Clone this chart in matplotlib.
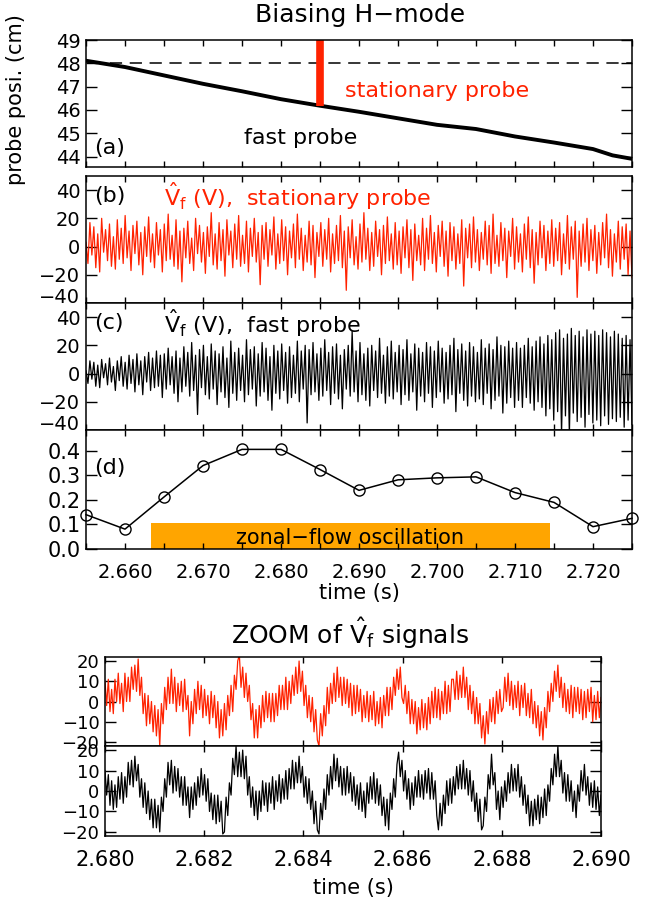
import matplotlib.pyplot as plt
import numpy as np
from matplotlib.ticker import MultipleLocator, FormatStrFormatter

plt.rcParams['font.family'] = 'DejaVu Sans'
plt.rcParams['mathtext.fontset'] = 'dejavusans'

RED = '#ff2200'

# (a) fast probe position, every 5 ms
t_pos = [2.655, 2.660, 2.665, 2.670, 2.675, 2.680, 2.685, 2.690, 2.695,
         2.700, 2.705, 2.710, 2.715, 2.720, 2.7225, 2.725]
pos_fast = [48.11, 47.84, 47.48, 47.12, 46.80, 46.46, 46.18, 45.92, 45.64,
            45.36, 45.18, 44.86, 44.60, 44.32, 44.05, 43.90]
pos_stat = 48.0
t_stat = 2.685

# (b) floating potential fluctuation, stationary probe (V)
vf_stat = [3, -12, 17, -6, 14, -15, 9, -18, 20, -4, 12, -10, 16, -14, 7, -16, 19, -9, 13, -12,
           22, -8, 11, -17, 15, -5, 18, -13, 10, -20, 14, -7, 21, -11, 9, -15, 17, -6, 12, -18,
           16, -10, 23, -9, 8, -14, 19, -16, 11, -25, 13, -8, 18, -12, 6, -17, 20, -5, 15, -11,
           10, -19, 14, -7, 24, -13, 9, -16, 17, -10, 12, -21, 19, -6, 11, -15, 16, -9, 22, -14,
           8, -12, 18, -18, 13, -7, 20, -11, 10, -27, 15, -9, 17, -14, 12, -6, 21, -16, 9, -12,
           19, -10, 14, -20, 11, -8, 16, -15, 23, -9, 13, -17, 8, -11, 18, -13, 15, -22, 10, -7,
           17, -14, 12, -9, 20, -18, 9, -12, 15, -10, 22, -15, 11, -31, 14, -8, 19, -13, 7, -16,
           16, -11, 24, -9, 13, -17, 10, -14, 18, -7, 12, -20, 15, -12, 21, -10, 9, -16, 17, -13,
           11, -19, 14, -8, 19, -15, 12, -24, 16, -10, 8, -13, 20, -17, 13, -9, 22, -12, 10, -18,
           15, -7, 18, -14, 11, -21, 17, -10, 14, -16, 9, -12, 19, -28, 13, -8, 16, -15, 21, -11,
           12, -17, 10, -9, 18, -13, 15, -19, 23, -12, 8, -14, 17, -10, 13, -22, 11, -7, 20, -16,
           14, -11, 9, -18, 16, -9, 21, -15, 12, -26, 10, -13, 18, -8, 15, -17, 11, -12, 19, -14,
           13, -10, 17, -20, 9, -12, 22, -16, 14, -9, 18, -36, 11, -14, 16, -11, 20, -17, 12, -10,
           15, -19, 10, -13, 17, -8, 23, -15, 12, -21, 9, -11, 18, -16, 14, -9, 16, -20, 11, -22]

# (c) floating potential fluctuation, fast probe (V)
vf_fast = [2, -7, 9, -4, 8, -9, 6, -10, 10, -3, 7, -8, 11, -6, 5, -12, 9, -5, 12, -9,
           8, -11, 13, -7, 10, -13, 14, -8, 9, -15, 12, -6, 15, -12, 11, -10, 16, -9, 13, -17,
           14, -11, 18, -8, 12, -14, 16, -20, 11, -13, 19, -9, 15, -16, 22, -12, 13, -29, 17, -10,
           20, -15, 12, -18, 21, -11, 16, -22, 14, -13, 19, -17, 11, -24, 23, -14, 15, -19, 18, -12,
           13, -20, 24, -15, 17, -11, 19, -23, 14, -16, 22, -13, 18, -19, 12, -26, 20, -14, 16, -18,
           21, -12, 15, -21, 19, -17, 13, -14, 23, -20, 16, -11, 20, -35, 17, -15, 22, -13, 14, -19,
           18, -16, 24, -12, 15, -22, 19, -14, 21, -18, 13, -25, 17, -11, 20, -16, 30, -13, 16, -20,
           22, -15, 14, -19, 18, -23, 20, -12, 16, -17, 25, -14, 13, -21, 19, -16, 23, -18, 15, -13,
           20, -22, 17, -15, 24, -19, 14, -13, 21, -26, 18, -16, 15, -20, 22, -14, 19, -24, 16, -17,
           23, -13, 18, -21, 15, -18, 20, -15, 25, -27, 17, -14, 21, -19, 16, -23, 22, -16, 19, -20,
           15, -18, 24, -22, 18, -14, 21, -25, 17, -19, 26, -16, 20, -28, 19, -21, 23, -17, 18, -24,
           22, -19, 18, -24, 20, -17, 25, -21, 19, -26, 23, -20, 26, -24, 21, -30, 27, -25, 24, -33,
           29, -27, 31, -43, 25, -30, 28, -44, 32, -28, 27, -34, 30, -31, 26, -38, 31, -29, 28, -35,
           30, -33, 27, -37, 31, -30, 29, -36, 26, -32, 30, -34, 28, -31, 25, -38, 27, -33, 24, -36]

# (d) zonal-flow amplitude, every 5 ms
t_zf = [2.655, 2.660, 2.665, 2.670, 2.675, 2.680, 2.685, 2.690,
        2.695, 2.700, 2.705, 2.710, 2.715, 2.720, 2.725]
zf = [0.140, 0.081, 0.212, 0.340, 0.406, 0.406, 0.324, 0.239,
      0.282, 0.290, 0.294, 0.230, 0.190, 0.091, 0.125]
zf_start, zf_end, zf_height = 2.6633, 2.7145, 0.104

# zoom 2.680 - 2.690 s
zoom_stat = [10, -2, 11, -5, 6, -6, 11, 0, 14, -1, 9, -5, 14, 0, 12, 0, 17, 6, 18, 5, 21, 3, 12, -6, 4, -12, 3, -11, 0, -15,
             -2, -17, -4, -22, -1, -11, 7, -4, 12, -1, 16, -1, 12, -5, 9, -2, 10, -5, 11, -4, 3, -17, 0, -11, 6, -6, 10, -4, 8, -8,
             6, -7, 3, -11, 5, -8, 3, -13, 0, -18, -4, -17, -1, -14, 3, -7, 8, -5, 13, 6, 20, 23, 7, 17, 2, 14, 0, 8, -9, -1,
             -18, -4, -18, -2, -13, 3, -10, 5, -8, 4, -10, 4, -10, 4, -7, 8, -4, 8, -4, 12, -4, 10, -1, 13, 3, 17, 4, 20, 5, 15,
             -2, 8, -8, 3, -10, 2, -15, -4, -19, -22, -6, -17, -2, -12, 7, -6, 9, -1, 14, 0, 17, 2, 12, -2, 12, -1, 11, -3, 9, -7,
             8, -6, 8, -5, 6, -10, 3, -8, 5, -10, 3, -9, 5, -12, 0, -11, 2, -13, 3, -7, 7, -7, 7, -4, 12, 3, 16, 6, 17, 2,
             -1, 8, -6, 5, -11, 1, -11, 0, -16, -3, -14, 1, -13, -1, -14, 2, -11, 5, -8, 7, -8, 6, -9, 5, -6, 10, -6, 8, -5, 11,
             11, 1, 15, 1, 13, 2, 17, 2, 12, -4, 8, -6, 5, -11, 2, -11, -1, -18, -7, -21, -5, -16, 1, -10, 2, -11, 5, -6, 6, -5,
             -3, 12, 0, 14, -2, 10, -4, 8, -3, 10, -7, 8, -3, 9, -7, 4, -8, 6, -11, 0, -13, -2, -17, -5, -19, -3, -13, 5, -5, 9,
             0, 15, 5, 18, 2, 12, -3, 9, -5, 6, -6, 8, -8, 7, -5, 7, -6, 6, -9, 5, -8, 6, -5, 7, -10, 3, -9, 5, -8, 2]

zoom_fast = [10, -2, 8, -7, 5, -9, 3, -8, 7, -4, 9, -6, 7, -3, 14, 3, 15, 2, 17, 5, 13, -3, 6, -8, 4, -11, 0, -14, -4, -18,
             -4, -18, -7, -20, -3, -10, 6, -3, 14, 3, 15, -1, 12, 0, 11, -3, 7, -7, 7, -7, 2, -13, 2, -9, 4, -7, 7, -3, 11, -2,
             8, -5, 6, -10, -1, -14, -2, -16, -2, -15, -5, -21, -20, -3, -12, 4, -2, 16, 8, 22, 7, 19, 7, 20, 6, 17, -2, 7, -8, 2,
             -12, 0, -14, 0, -10, 5, -7, 4, -10, 4, -6, 7, -9, 5, -5, 8, -6, 6, -4, 10, -4, 11, 1, 15, 1, 14, 4, 17, 4, 12,
             -3, 7, -6, 6, -9, 0, -16, -5, -19, -21, -6, -14, 1, -9, 8, -2, 12, 1, 18, 5, 16, 2, 12, -2, 11, -2, 12, -1, 9, -5,
             7, -7, 3, -9, 4, -10, 0, -13, 4, -6, 7, -4, 9, -6, 6, -7, 3, -12, -3, -17, -4, -19, -1, -9, 6, -3, 13, 19, 7, 15,
             0, 10, -4, 6, -9, 4, -7, 7, -3, 10, -3, 8, -4, 10, -1, 11, -4, 9, -4, 5, -12, -19, -6, -17, -2, -11, 5, -7, 6, -6,
             7, -2, 12, 1, 13, 1, 15, 1, 11, -2, 10, -5, 5, -10, -1, -15, -4, -19, -17, -3, -10, 8, 1, 18, 3, 9, -9, 0, -14, 2,
             -8, 5, -5, 9, -1, 13, 0, 11, 0, 13, -3, 7, -7, 3, -11, -2, -17, -5, -17, -4, -14, -2, -16, -3, -13, 1, -12, 3, -5, 11,
             3, 18, 7, 22, 7, 15, -1, 9, -5, 8, -5, 5, -10, 0, -13, 3, -5, 10, 0, 13, -2, 7, -7, 4, -8, 5, -9, 2, -12, -2]

t_sig = np.linspace(2.655, 2.725, len(vf_stat))
t_zoom = np.linspace(2.680, 2.690, len(zoom_stat))

W, H = 652, 905
fig = plt.figure(figsize=(W / 100, H / 100), dpi=100)


def box(l, t, r, b):
    return [l / W, 1 - b / H, (r - l) / W, (b - t) / H]


def style(ax, xlabels=False, tfs=14):
    ax.tick_params(direction='in', top=True, right=True, which='both', labelsize=tfs, width=1.0)
    ax.tick_params(axis='y', which='major', length=8, pad=4)
    ax.tick_params(axis='x', which='both', length=4, pad=10)
    if not xlabels:
        ax.tick_params(axis='x', labelbottom=False)
    for s in ax.spines.values():
        s.set_linewidth(1.1)


def set_label_va(ax, idx, va):
    # IDL-style placement of the edge labels
    ax.yaxis.get_major_ticks()[idx].label1.set_verticalalignment(va)


ax_a = fig.add_axes(box(86, 40, 632, 167))
ax_b = fig.add_axes(box(86, 176, 632, 303))
ax_c = fig.add_axes(box(86, 303, 632, 430))
ax_d = fig.add_axes(box(86, 430, 632, 549))
ax_z1 = fig.add_axes(box(105, 657, 601, 746))
ax_z2 = fig.add_axes(box(105, 746, 601, 836))

for ax in [ax_a, ax_b, ax_c, ax_d]:
    ax.set_xlim(2.655, 2.725)
    ax.xaxis.set_major_locator(MultipleLocator(0.01))
    ax.xaxis.set_minor_locator(MultipleLocator(0.005))

# (a)
ax_a.plot(t_pos, pos_fast, color='black', lw=2.8)
ax_a.plot([2.6555, 2.725], [pos_stat, pos_stat], color='black', lw=1.1, dashes=(8, 5))
ax_a.plot([t_stat, t_stat], [46.18, 49.0], color=RED, lw=5.5, solid_capstyle='butt')
ax_a.set_ylim(43.55, 49.0)
ax_a.set_yticks([44, 45, 46, 47, 48, 49])
ax_a.text(2.6882, 46.8, 'stationary probe', color=RED, fontsize=16, va='center')
ax_a.text(2.6752, 44.8, 'fast probe', color='black', fontsize=16, va='center')
ax_a.text(2.6561, 44.35, '(a)', fontsize=16, va='center')
style(ax_a)

# (b)
ax_b.plot(t_sig, vf_stat, color=RED, lw=0.9)
ax_b.set_ylim(-40, 50)
ax_b.set_yticks([-40, -20, 0, 20, 40])
ax_b.text(2.6561, 36, '(b)', fontsize=16, va='center')
ax_b.text(2.6650, 36, r'$\hat{\mathrm{V}}_\mathrm{f}$ (V),  stationary probe', color=RED, fontsize=16, va='center')
style(ax_b)
set_label_va(ax_b, 0, 'baseline')

# (c)
ax_c.plot(t_sig, vf_fast, color='black', lw=0.9)
ax_c.set_ylim(-40, 50)
ax_c.set_yticks([-40, -20, 0, 20, 40])
ax_c.text(2.6561, 36, '(c)', fontsize=16, va='center')
ax_c.text(2.6650, 36, r'$\hat{\mathrm{V}}_\mathrm{f}$ (V),  fast probe', color='black', fontsize=16, va='center')
style(ax_c)
set_label_va(ax_c, 0, 'baseline')

# (d)
ax_d.bar(zf_start, zf_height, width=zf_end - zf_start, align='edge', color='#ffa500', zorder=1)
ax_d.plot(t_zf, zf, color='black', lw=1.1, marker='o', ms=8, mfc='none', mec='black', mew=1.0, zorder=3, clip_on=False)
ax_d.set_ylim(0, 0.485)
ax_d.set_yticks([0.0, 0.1, 0.2, 0.3, 0.4])
ax_d.yaxis.set_major_formatter(FormatStrFormatter('%.1f'))
ax_d.xaxis.set_major_formatter(FormatStrFormatter('%.3f'))
ax_d.text(2.6561, 0.33, '(d)', fontsize=16, va='center')
ax_d.text((zf_start + zf_end) / 2, 0.045, 'zonal\u2212flow oscillation', fontsize=15, ha='center', va='center')
style(ax_d, xlabels=True, tfs=14)
ax_d.tick_params(axis='y', labelsize=15)

fig.text(359 / W, 1 - 593 / H, 'time (s)', fontsize=15, ha='center', va='center')
fig.text(360 / W, 1 - 15 / H, 'Biasing H\u2212mode', fontsize=18, ha='center', va='center')
fig.text(16 / W, 1 - 100 / H, 'probe posi. (cm)', fontsize=15, rotation=90, ha='center', va='center')

# zoom panels
for ax, sig, col in [(ax_z1, zoom_stat, RED), (ax_z2, zoom_fast, 'black')]:
    ax.plot(t_zoom, sig, color=col, lw=0.9)
    ax.set_xlim(2.680, 2.690)
    ax.set_ylim(-22, 22)
    ax.set_yticks([-20, -10, 0, 10, 20])
    ax.xaxis.set_major_locator(MultipleLocator(0.002))
    ax.xaxis.set_major_formatter(FormatStrFormatter('%.3f'))
style(ax_z1, tfs=15)
style(ax_z2, xlabels=True, tfs=15)
ax_z1.tick_params(axis='y', labelsize=13)
ax_z2.tick_params(axis='y', labelsize=13)

fig.text(350 / W, 1 - 633 / H, r'ZOOM of $\hat{\mathrm{V}}_\mathrm{f}$ signals', fontsize=18, ha='center', va='center')
fig.text(353 / W, 1 - 888 / H, 'time (s)', fontsize=15, ha='center', va='center')

fig.savefig('out.png', dpi=100)
